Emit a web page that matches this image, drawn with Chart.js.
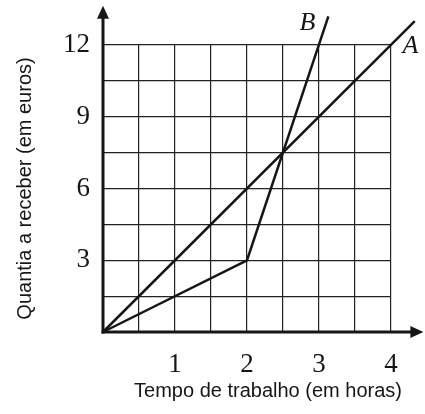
<!DOCTYPE html>
<html>
<head>
<meta charset="utf-8">
<script src="https://cdn.jsdelivr.net/npm/chart.js@4"></script>
<style>
  body { margin: 0; background: #fff; }
  #wrap { position: relative; width: 425px; height: 414px; }
</style>
</head>
<body>
<div id="wrap"><canvas id="chart"></canvas></div>
<script>
// Data (hours -> euros)
const lineA = [{ x: 0, y: 0 }, { x: 4.33, y: 13 }];
const lineB = [{ x: 0, y: 0 }, { x: 2, y: 3 }, { x: 3.13, y: 13.2 }];

// Line name labels, placed in data coordinates
const seriesNames = ['A', 'B'];
const namePosX = [4.27, 2.84];
const namePosY = [11.97, 12.91];

// Tick labels shown
const xTickLabels = [1, 2, 3, 4];
const yTickLabels = [3, 6, 9, 12];

// Where the axis arrows end (data units)
const xArrowEnd = 4.45;
const yArrowEnd = 13.64;

const xTitle = 'Tempo de trabalho (em horas)';
const yTitle = 'Quantia a receber (em euros)';

const ink = '#161616';

// Draws axes with arrows, line names and the x title
const extrasPlugin = {
    id: 'extras',
    afterDatasetsDraw(chart) {
        const ctx = chart.ctx;
        const xs = chart.scales.x;
        const ys = chart.scales.y;
        const ox = xs.getPixelForValue(0);
        const oy = ys.getPixelForValue(0);
        const xEnd = xs.getPixelForValue(xArrowEnd);
        const yEnd = ys.getPixelForValue(yArrowEnd);

        ctx.save();
        ctx.strokeStyle = ink;
        ctx.fillStyle = ink;
        ctx.lineWidth = 3;
        ctx.lineCap = 'butt';

        // x axis
        ctx.beginPath();
        ctx.moveTo(ox - 1.5, oy);
        ctx.lineTo(xEnd - 10, oy);
        ctx.stroke();
        ctx.beginPath();
        ctx.moveTo(xEnd, oy);
        ctx.lineTo(xEnd - 13, oy - 6);
        ctx.lineTo(xEnd - 13, oy + 6);
        ctx.closePath();
        ctx.fill();

        // y axis
        ctx.beginPath();
        ctx.moveTo(ox, oy + 1.5);
        ctx.lineTo(ox, yEnd + 10);
        ctx.stroke();
        ctx.beginPath();
        ctx.moveTo(ox, yEnd);
        ctx.lineTo(ox - 6, yEnd + 13);
        ctx.lineTo(ox + 6, yEnd + 13);
        ctx.closePath();
        ctx.fill();

        // names of the lines
        ctx.font = 'italic 26px "Liberation Serif", "Times New Roman", serif';
        ctx.textAlign = 'center';
        ctx.textBaseline = 'middle';
        seriesNames.forEach((name, i) => {
            ctx.fillText(name, xs.getPixelForValue(namePosX[i]), ys.getPixelForValue(namePosY[i]));
        });

        // x axis title
        ctx.font = '20px "Liberation Sans", Arial, sans-serif';
        ctx.fillText(xTitle, 268, 391);
        ctx.restore();
    }
};

const ctx = document.getElementById('chart').getContext('2d');
new Chart(ctx, {
    type: 'scatter',
    data: {
        datasets: [
            { label: 'A', data: lineA, showLine: true, clip: false },
            { label: 'B', data: lineB, showLine: true, clip: false }
        ]
    },
    options: {
        responsive: true,
        maintainAspectRatio: false,
        animation: false,
        layout: { padding: { left: 0, top: 45, right: 34, bottom: 0 } },
        elements: {
            point: { radius: 0, hoverRadius: 0 },
            line: { borderColor: ink, borderWidth: 2.5, tension: 0 }
        },
        plugins: {
            legend: { display: false },
            tooltip: { enabled: false }
        },
        scales: {
            x: {
                type: 'linear',
                min: 0,
                max: 4,
                afterFit(scale) { scale.height = 82; },
                grid: { color: '#222', lineWidth: 1.2, drawTicks: false },
                border: { display: false },
                ticks: {
                    stepSize: 0.5,
                    padding: 17,
                    color: ink,
                    font: { family: '"Liberation Serif", "Times New Roman", serif', size: 27 },
                    callback: v => xTickLabels.includes(v) ? String(v) : ''
                }
            },
            y: {
                type: 'linear',
                min: 0,
                max: 12,
                afterFit(scale) { scale.width = 103; },
                grid: { color: '#222', lineWidth: 1.2, drawTicks: false },
                border: { display: false },
                ticks: {
                    stepSize: 1.5,
                    padding: 13,
                    color: ink,
                    font: { family: '"Liberation Serif", "Times New Roman", serif', size: 27 },
                    callback: v => yTickLabels.includes(v) ? String(v) : ''
                },
                title: {
                    display: true,
                    text: yTitle,
                    color: ink,
                    padding: { top: 13, bottom: 0 },
                    font: { family: '"Liberation Sans", Arial, sans-serif', size: 20 }
                }
            }
        }
    },
    plugins: [extrasPlugin]
});
</script>
</body>
</html>
